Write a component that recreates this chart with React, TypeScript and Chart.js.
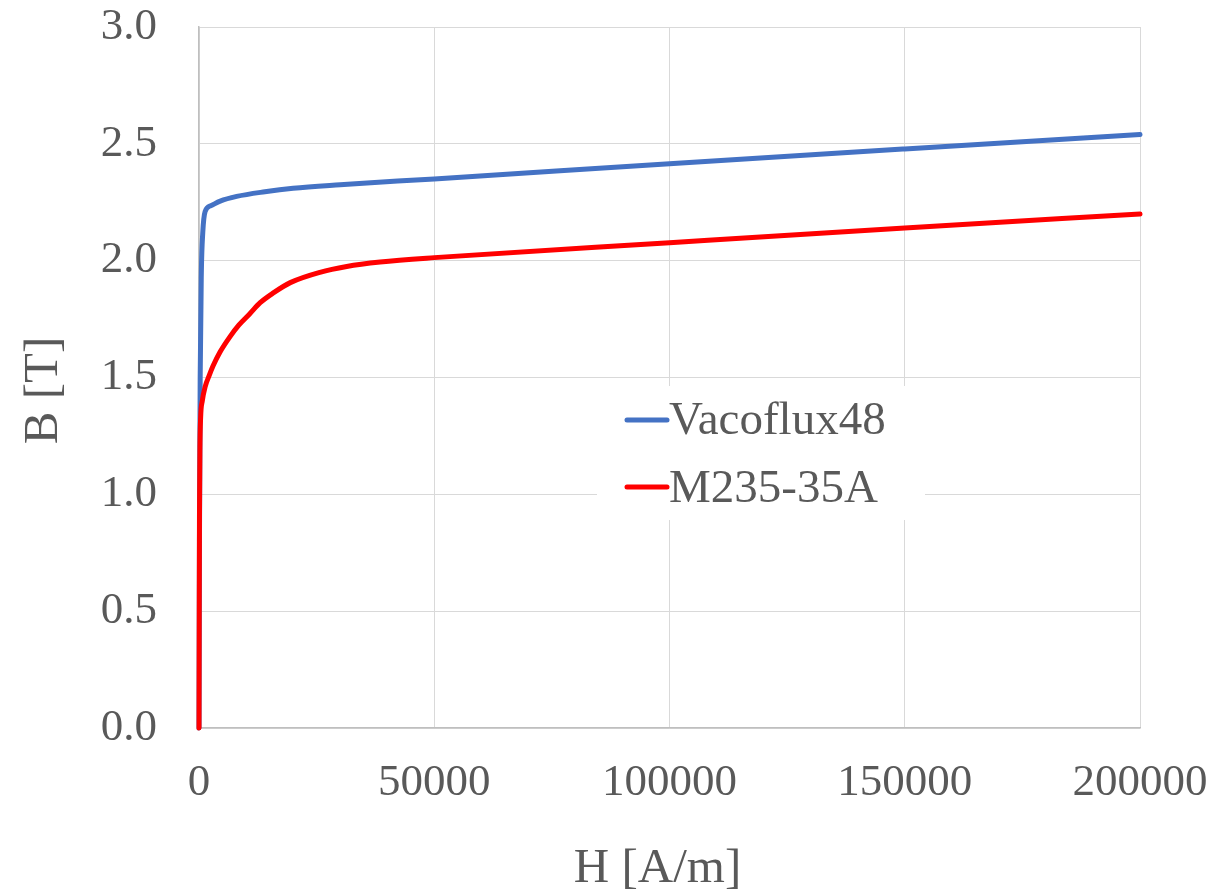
import React, { useEffect, useRef } from "react";
import { Chart, registerables } from "chart.js";

Chart.register(...registerables);

// ---- data ----
const seriesNames = ["Vacoflux48", "M235-35A"];
const seriesColors = ["#4472C4", "#FF0000"];

const vacofluxH = [0, 100, 250, 500, 800, 1300, 2500, 4500, 8000, 14000, 20000, 30000, 50000, 100000, 150000, 200000];
const vacofluxB = [0, 0.8, 1.5, 1.95, 2.12, 2.21, 2.235, 2.255, 2.275, 2.295, 2.31, 2.325, 2.35, 2.415, 2.478, 2.54];

const m235H = [0, 50, 100, 200, 350, 700, 1300, 2200, 3000, 4500, 6600, 8500, 10800, 13000, 15800, 19400, 25700, 31400, 38500, 50000, 100000, 150000, 200000];
const m235B = [0, 0.5, 0.9, 1.2, 1.33, 1.4, 1.46, 1.51, 1.55, 1.61, 1.675, 1.725, 1.773, 1.82, 1.862, 1.906, 1.95, 1.975, 1.994, 2.013, 2.077, 2.14, 2.2];

const xTicks = [0, 50000, 100000, 150000, 200000];
const yTicks = [0, 0.5, 1.0, 1.5, 2.0, 2.5, 3.0];
const xTitle = "H [A/m]";
const yTitle = "B [T]";

const FONT = "'Liberation Serif', 'Times New Roman', serif";
const TEXT = "#595959";

const toPoints = (xs: number[], ys: number[]) => xs.map((x, i) => ({ x, y: ys[i] }));

const zeroPad = (s: any) => {
  s.paddingTop = 0;
  s.paddingBottom = 0;
  s.paddingLeft = 0;
  s.paddingRight = 0;
};

const overlayPlugin = {
  id: "overlay",
  afterDraw(chart: any) {
    const ctx = chart.ctx as CanvasRenderingContext2D;
    const ca = chart.chartArea;
    ctx.save();
    // legend box
    const lx = ca.left + 398;
    const ly = ca.top + 359;
    ctx.fillStyle = "#ffffff";
    ctx.fillRect(lx, ly, 328, 134);
    ctx.font = `47px ${FONT}`;
    ctx.textAlign = "left";
    ctx.textBaseline = "alphabetic";
    const rows = [
      { lineY: ly + 34, baseY: ly + 48 },
      { lineY: ly + 101, baseY: ly + 116 },
    ];
    chart.data.datasets.forEach((ds: any, i: number) => {
      const r = rows[i];
      ctx.strokeStyle = ds.borderColor;
      ctx.lineWidth = 5;
      ctx.lineCap = "round";
      ctx.beginPath();
      ctx.moveTo(lx + 30, r.lineY);
      ctx.lineTo(lx + 70, r.lineY);
      ctx.stroke();
      ctx.fillStyle = TEXT;
      ctx.fillText(ds.label, lx + 72, r.baseY);
    });
    // axis titles
    ctx.fillStyle = TEXT;
    ctx.font = `49px ${FONT}`;
    ctx.textAlign = "center";
    ctx.textBaseline = "alphabetic";
    ctx.fillText(xTitle, (ca.left + ca.right) / 2 - 12, ca.bottom + 154);
    ctx.translate(44, (ca.top + ca.bottom) / 2 + 13);
    ctx.rotate(-Math.PI / 2);
    ctx.textBaseline = "middle";
    ctx.fillText(yTitle, 0, 0);
    ctx.restore();
  },
};

export default function App() {
  const ref = useRef<HTMLCanvasElement | null>(null);
  useEffect(() => {
    if (!ref.current) return;
    const chart = new Chart(ref.current, {
      type: "scatter",
      data: {
        datasets: [
          {
            label: seriesNames[0],
            data: toPoints(vacofluxH, vacofluxB),
            borderColor: seriesColors[0],
            backgroundColor: seriesColors[0],
            showLine: true,
            pointRadius: 0,
            borderWidth: 5,
            borderCapStyle: "round",
            borderJoinStyle: "round",
            cubicInterpolationMode: "monotone",
            order: 2,
            clip: 8,
          },
          {
            label: seriesNames[1],
            data: toPoints(m235H, m235B),
            borderColor: seriesColors[1],
            backgroundColor: seriesColors[1],
            showLine: true,
            pointRadius: 0,
            borderWidth: 5,
            borderCapStyle: "round",
            borderJoinStyle: "round",
            cubicInterpolationMode: "monotone",
            order: 1,
            clip: 8,
          },
        ],
      },
      options: {
        responsive: false,
        animation: false,
        devicePixelRatio: 1,
        layout: { padding: { top: 27, right: 76, left: 0, bottom: 0 } },
        plugins: { legend: { display: false }, tooltip: { enabled: false } },
        scales: {
          x: {
            type: "linear",
            min: 0,
            max: 200000,
            afterBuildTicks: (s: any) => {
              s.ticks = xTicks.map((v) => ({ value: v }));
            },
            afterFit: (s: any) => {
              s.height = 165;
              zeroPad(s);
            },
            ticks: {
              callback: (v: any) => String(v),
              font: { family: FONT, size: 45 },
              color: TEXT,
              padding: 28,
              maxRotation: 0,
              autoSkip: false,
            },
            grid: { color: "#d9d9d9", lineWidth: 1, drawTicks: false },
            border: { color: "#bfbfbf", width: 1.5 },
          },
          y: {
            type: "linear",
            min: 0,
            max: 3,
            afterBuildTicks: (s: any) => {
              s.ticks = yTicks.map((v) => ({ value: v }));
            },
            afterFit: (s: any) => {
              s.width = 199;
              zeroPad(s);
            },
            ticks: {
              callback: (v: any) => Number(v).toFixed(1),
              font: { family: FONT, size: 45 },
              color: TEXT,
              padding: 42,
              autoSkip: false,
            },
            grid: { color: "#d9d9d9", lineWidth: 1, drawTicks: false },
            border: { color: "#bfbfbf", width: 1.5 },
          },
        },
      },
      plugins: [overlayPlugin],
    } as any);
    return () => chart.destroy();
  }, []);
  return (
    <div style={{ position: "absolute", left: 0, top: 0, width: 1216, height: 893, background: "#fff" }}>
      <canvas ref={ref} width={1216} height={893} style={{ display: "block" }} />
    </div>
  );
}
